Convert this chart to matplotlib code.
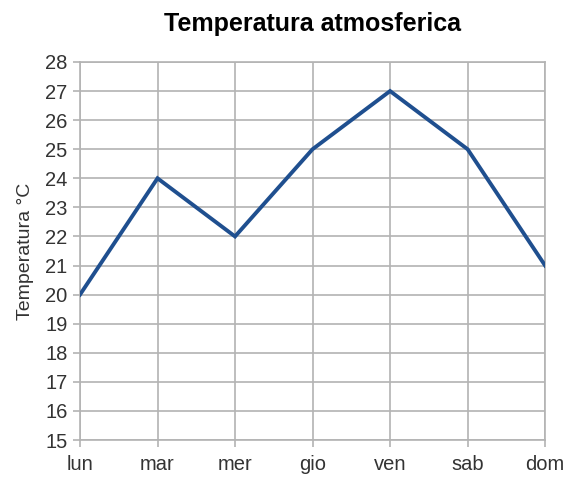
import matplotlib
matplotlib.use("Agg")
import matplotlib.pyplot as plt

# dati della settimana
giorni = ["lun", "mar", "mer", "gio", "ven", "sab", "dom"]
temperature = [20, 24, 22, 25, 27, 25, 21]
yticks = list(range(15, 29))

plt.rcParams['font.family'] = ['Liberation Sans', 'DejaVu Sans']

fig = plt.figure(figsize=(5.69, 4.79), dpi=100)
ax = fig.add_axes([0.1406, 0.0814, 0.958 - 0.1406, 0.8706 - 0.0814])

grid_col = "#b3b3b3"
x = list(range(len(giorni)))
ax.plot(x, temperature, color="#1f4f8f", lw=2.8, solid_joinstyle="miter", zorder=3)

ax.set_xlim(0, len(giorni) - 1)
ax.set_ylim(15, 28)
ax.set_xticks(x)
ax.set_xticklabels(giorni)
ax.set_yticks(yticks)
ax.grid(True, color=grid_col, lw=1.2)
ax.set_axisbelow(True)
for s in ax.spines.values():
    s.set_color(grid_col)
    s.set_linewidth(1.2)
ax.tick_params(axis="both", colors=grid_col, length=5, width=1.2, labelsize=14.5,
               labelcolor="#333333")
ax.tick_params(axis="x", pad=6)
ax.tick_params(axis="y", pad=4)

ax.set_ylabel("Temperatura °C", fontsize=14, color="#333333", labelpad=8)
ax.set_title("Temperatura atmosferica", fontsize=18, fontweight="bold", pad=22)

fig.savefig("out.png", dpi=100)
